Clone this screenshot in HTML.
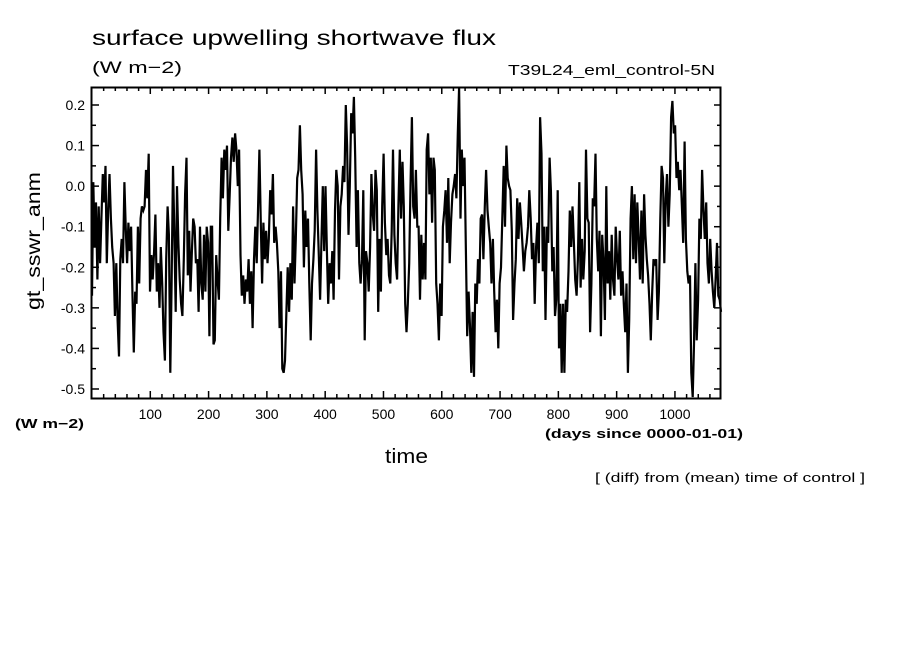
<!DOCTYPE html>
<html><head><meta charset="utf-8"><style>
body{margin:0;background:#fff;}
svg text{font-family:"Liberation Sans","DejaVu Sans",sans-serif;fill:#000;}
</style></head><body>
<svg id="chart" width="904" height="654" xmlns="http://www.w3.org/2000/svg">
<text x="92" y="45" font-size="21" textLength="404" lengthAdjust="spacingAndGlyphs">surface upwelling shortwave flux</text>
<text x="92" y="73" font-size="17" textLength="90" lengthAdjust="spacingAndGlyphs">(W m−2)</text>
<text x="508" y="75" font-size="15" textLength="207" lengthAdjust="spacingAndGlyphs">T39L24_eml_control-5N</text>
<text transform="translate(40,310) rotate(-90)" font-size="19" textLength="138" lengthAdjust="spacingAndGlyphs">gt_sswr_anm</text>
<text x="15" y="428" font-size="13" font-weight="bold" textLength="69" lengthAdjust="spacingAndGlyphs">(W m−2)</text>
<text x="545" y="438" font-size="13" font-weight="bold" textLength="198" lengthAdjust="spacingAndGlyphs">(days since 0000-01-01)</text>
<text x="385" y="463" font-size="20" textLength="43" lengthAdjust="spacingAndGlyphs">time</text>
<text x="595" y="482" font-size="13" textLength="270" lengthAdjust="spacingAndGlyphs">[ (diff) from (mean) time of control ]</text>
<g id="axes"></g>
<path id="series" fill="none" stroke="#000" stroke-width="2.2" stroke-linejoin="miter"/>
<rect x="91.5" y="87.5" width="629" height="311" fill="none" stroke="#000" stroke-width="2"/>
</svg>
<script>
const xTicks=[100,200,300,400,500,600,700,800,900,1000];
const yTicks=[0.2,0.1,0.0,-0.1,-0.2,-0.3,-0.4,-0.5];
const yTickLabels=["0.2","0.1","0.0","-0.1","-0.2","-0.3","-0.4","-0.5"];
const values=[
-0.27,0.01,-0.15,-0.04,-0.23,-0.05,-0.19,-0.08,0.03,-0.04,0.05,-0.19,-0.06,0.03,-0.08,-0.15,-0.19,-0.32,-0.19,-0.33,-0.42,-0.18,-0.13,-0.19,0.01,-0.10,-0.19,-0.09,-0.16,-0.10,-0.27,-0.41,-0.26,-0.29,-0.10,-0.24,-0.08,-0.05,-0.06,-0.05,0.04,-0.03,0.08,-0.26,-0.17,-0.23,-0.16,-0.07,-0.26,-0.19,-0.30,-0.15,-0.24,-0.36,-0.43,-0.18,-0.05,-0.12,-0.46,-0.24,0.05,-0.11,-0.31,0.00,-0.14,-0.23,-0.29,-0.32,-0.18,-0.02,0.07,-0.22,-0.11,-0.26,-0.16,-0.08,-0.10,-0.19,-0.18,-0.31,-0.10,-0.24,-0.28,-0.12,-0.26,-0.10,-0.14,-0.37,-0.10,-0.10,-0.39,-0.38,-0.17,-0.23,-0.28,-0.08,0.07,-0.03,0.09,0.04,0.10,-0.11,-0.02,0.07,0.12,0.06,0.13,0.09,0.00,
0.09,-0.17,-0.27,-0.22,-0.29,-0.23,-0.26,-0.18,-0.29,-0.21,-0.35,-0.18,-0.10,-0.19,-0.06,0.09,-0.08,-0.24,-0.09,-0.18,-0.11,-0.19,-0.13,-0.01,-0.07,0.03,-0.14,-0.10,-0.14,-0.21,-0.35,-0.21,-0.45,-0.46,-0.43,-0.31,-0.20,-0.31,-0.19,-0.28,-0.05,-0.24,-0.13,0.02,0.04,0.15,0.04,-0.02,-0.20,-0.06,-0.15,-0.08,-0.24,-0.38,-0.24,-0.18,-0.11,0.09,-0.06,-0.17,-0.28,-0.13,0.00,-0.16,0.00,-0.16,-0.29,-0.19,-0.24,-0.16,-0.28,-0.06,0.04,0.00,-0.23,-0.05,-0.02,0.05,0.01,0.20,0.10,-0.12,0.00,0.18,0.13,0.22,0.07,-0.15,-0.01,-0.19,-0.24,-0.18,-0.01,-0.38,-0.16,-0.19,-0.26,-0.15,0.03,-0.07,-0.11,0.04,-0.01,-0.31,-0.13,-0.26,-0.05,0.08,-0.09,-0.17,-0.13,-0.22,-0.24,-0.11,0.09,
-0.12,-0.19,-0.23,-0.05,0.09,-0.08,0.06,-0.05,-0.29,-0.36,-0.29,-0.19,0.00,0.17,-0.05,-0.08,0.04,-0.10,-0.10,-0.28,-0.12,-0.23,-0.14,-0.23,0.09,0.13,-0.02,0.07,-0.09,0.07,0.04,-0.24,-0.29,-0.38,-0.24,-0.32,-0.10,-0.06,-0.01,-0.14,0.02,-0.19,-0.09,-0.02,0.00,0.03,-0.03,0.13,0.245,-0.08,0.09,0.00,0.07,-0.16,-0.37,-0.26,-0.34,-0.46,-0.31,-0.47,-0.24,-0.29,-0.18,-0.24,-0.08,-0.07,-0.18,-0.05,0.04,-0.06,-0.10,-0.14,-0.24,-0.13,-0.26,-0.36,-0.28,-0.40,-0.24,-0.20,-0.08,0.05,-0.10,0.10,0.02,0.00,-0.01,-0.11,-0.33,-0.24,-0.18,-0.03,-0.13,-0.04,-0.09,-0.15,-0.21,-0.16,-0.14,-0.10,-0.01,-0.08,-0.18,-0.14,-0.29,-0.15,-0.09,-0.19,0.17,0.08,-0.21,-0.10,-0.33,-0.10,-0.14,0.07,-0.01,-0.21,-0.15,-0.32,-0.28,-0.01,-0.40,-0.29,-0.46,
-0.29,-0.46,-0.28,-0.31,-0.21,-0.06,-0.15,-0.05,-0.14,-0.23,-0.27,-0.18,0.01,-0.25,-0.13,-0.23,-0.16,0.09,-0.08,-0.09,-0.36,-0.24,-0.03,-0.05,0.08,-0.13,-0.21,-0.11,-0.37,-0.12,-0.19,-0.33,0.00,-0.24,-0.16,-0.28,-0.12,-0.23,-0.27,-0.10,-0.18,-0.23,-0.11,-0.27,-0.21,-0.29,-0.36,-0.24,-0.46,-0.33,-0.08,0.00,-0.18,-0.02,-0.19,-0.04,-0.13,-0.23,-0.06,-0.24,-0.02,-0.12,-0.18,-0.22,-0.29,-0.38,-0.26,-0.18,-0.19,-0.18,-0.33,-0.26,-0.08,0.05,0.02,-0.19,-0.03,0.03,-0.10,-0.02,0.17,0.21,0.13,0.15,0.02,0.06,-0.01,0.04,-0.05,-0.14,0.11,-0.13,-0.21,-0.24,-0.22,-0.46,-0.52,-0.39,-0.19,-0.38,-0.28,-0.08,-0.13,0.04,-0.06,-0.13,-0.04,-0.19,-0.24,-0.13,-0.21,-0.26,-0.30,-0.23,-0.14,-0.27,-0.28,-0.31
];
const dayStart=0, dayEnd=1079;
const X0=92, X1=721, Y0=87, Y1=398;
const xScale=d=>X0+(d-0)/(1079-0)*(X1-X0);
const yScale=v=>105+(0.2-v)*405.7;
const NS="http://www.w3.org/2000/svg";
const axes=document.getElementById('axes');
function ln(x1,y1,x2,y2,name){
  const l=document.createElementNS(NS,'line');
  l.setAttribute('x1',x1);l.setAttribute('y1',y1);l.setAttribute('x2',x2);l.setAttribute('y2',y2);
  l.setAttribute('stroke','#000');l.setAttribute('stroke-width','1.5');
  
  
  axes.appendChild(l);
}
function tx(x,y,s,anchor,name){
  const t=document.createElementNS(NS,'text');
  t.setAttribute('x',x);t.setAttribute('y',y);t.setAttribute('font-size','14');t.setAttribute('text-anchor',anchor);
  t.textContent=s;
  
  
  axes.appendChild(t);
}
for(let d=20; d<1080; d+=20){
  const x=xScale(d), major=(d%100===0);
  const len=major?7:4;
  ln(x,Y1,x,Y1-len,'x-tick');
  ln(x,Y0,x,Y0+len,'x-tick-top');
}
xTicks.forEach(d=>tx(xScale(d),419,String(d),'middle','x-tick-label'));
for(let i=-10;i<=4;i++){
  const v=i*0.05, y=yScale(v), major=(i%2===0);
  if(y<Y0||y>Y1) continue;
  const len=major?7:4;
  ln(X0,y,X0+len,y,'y-tick');
  ln(X1,y,X1-len,y,'y-tick-right');
}
yTicks.forEach((v,i)=>tx(85,yScale(v)+5,yTickLabels[i],'end','y-tick-label'));
const n=values.length;
let d='';
values.forEach((v,i)=>{
  const day=dayStart+(dayEnd-dayStart)*i/(n-1);
  d+=(i?'L':'M')+xScale(day).toFixed(1)+','+Math.max(Y0,Math.min(Y1,yScale(v))).toFixed(1);
});
document.getElementById('series').setAttribute('d',d);
</script>
</body></html>
